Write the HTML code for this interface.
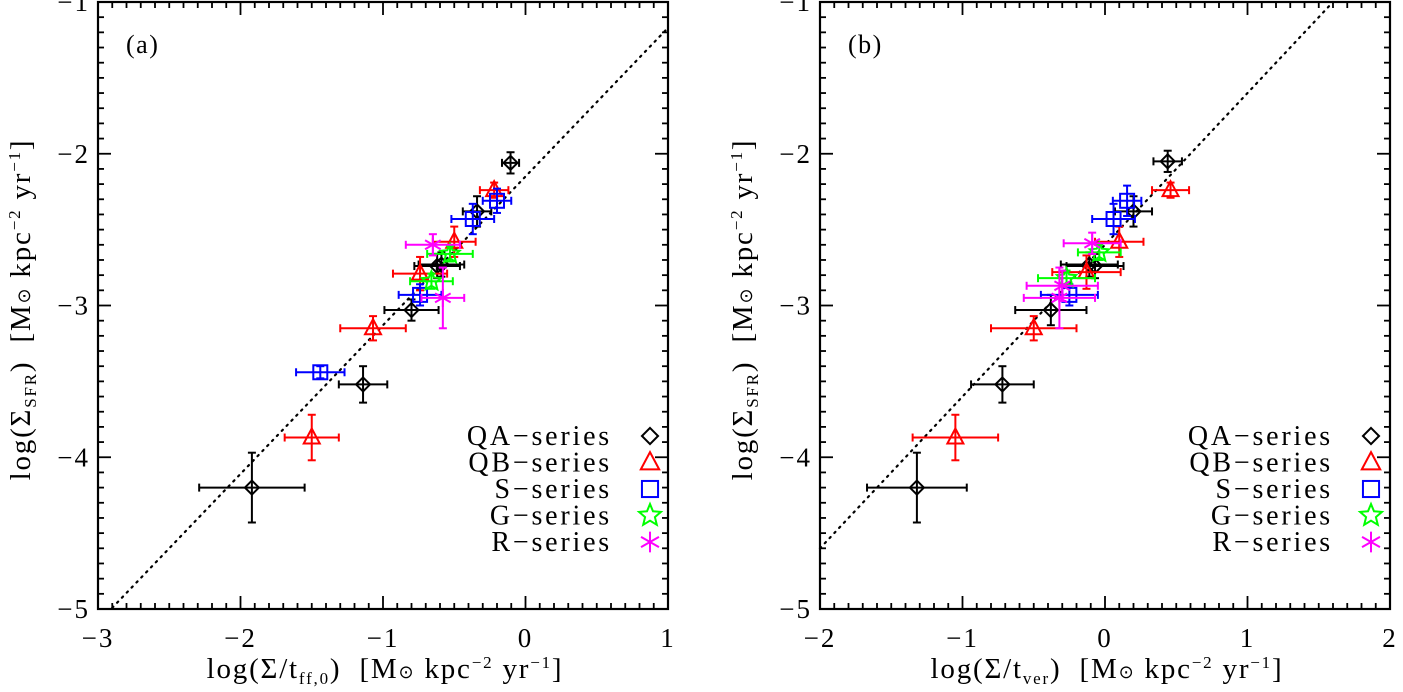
<!DOCTYPE html>
<html><head><meta charset="utf-8"><style>
body{margin:0;background:#fff;}
svg{display:block;font-family:"Liberation Serif",serif;}
</style></head><body>
<svg id="fig" width="1403" height="692" xml:space="preserve"></svg>
<script>
// Panel (a)
const aQA_x=[-0.105,-0.34,-0.59,-0.62,-0.80,-1.14,-1.92];
const aQA_y=[-2.06,-2.38,-2.73,-2.74,-3.03,-3.52,-4.20];
const aQA_ex=[0.06,0.1,0.16,0.16,0.19,0.17,0.37];
const aQA_ey=[0.07,0.1,0.08,0.08,0.07,0.12,0.23];
const aQB_x=[-0.22,-0.50,-0.74,-1.07,-1.50];
const aQB_y=[-2.24,-2.58,-2.79,-3.15,-3.87];
const aQB_ex=[0.1,0.15,0.19,0.23,0.19];
const aQB_ey=[0.05,0.1,0.11,0.08,0.15];
const aS_x=[-0.20,-0.37,-0.74,-1.44];
const aS_y=[-2.31,-2.43,-2.93,-3.44];
const aS_ex=[0.1,0.15,0.15,0.17];
const aS_ey=[0.08,0.1,0.07,0.04];
const aG_x=[-0.53,-0.66];
const aG_y=[-2.66,-2.84];
const aG_ex=[0.16,0.15];
const aG_ey=[0.05,0.05];
const aR_x=[-0.65,-0.58];
const aR_y=[-2.60,-2.95];
const aR_ex=[0.19,0.15];
const aR_ey=[0.07,0.2];
// Panel (b)
const bQA_x=[0.44,0.20,-0.11,-0.07,-0.38,-0.72,-1.32];
const bQA_y=[-2.05,-2.38,-2.73,-2.74,-3.03,-3.52,-4.20];
const bQA_ex=[0.1,0.13,0.2,0.2,0.25,0.22,0.35];
const bQA_ey=[0.07,0.1,0.08,0.08,0.1,0.12,0.23];
const bQB_x=[0.46,0.10,-0.13,-0.50,-1.05];
const bQB_y=[-2.24,-2.58,-2.78,-3.15,-3.87];
const bQB_ex=[0.13,0.17,0.24,0.3,0.30];
const bQB_ey=[0.05,0.1,0.11,0.08,0.15];
const bS_x=[0.155,0.06,-0.25];
const bS_y=[-2.31,-2.43,-2.93];
const bS_ex=[0.1,0.15,0.2];
const bS_ey=[0.1,0.1,0.07];
const bG_x=[-0.04,-0.27];
const bG_y=[-2.65,-2.82];
const bG_ex=[0.15,0.2];
const bG_ey=[0.05,0.05];
const bR_x=[-0.09,-0.30,-0.32];
const bR_y=[-2.59,-2.87,-2.95];
const bR_ex=[0.2,0.25,0.25];
const bR_ey=[0.07,0.1,0.2];
const legendLabels=["QA\u2212series","QB\u2212series","S\u2212series","G\u2212series","R\u2212series"];

const svg=document.getElementById('fig');
const NS="http://www.w3.org/2000/svg";
function mk(tag,attrs,parent){const e=document.createElementNS(NS,tag);for(const k in attrs)e.setAttribute(k,attrs[k]);(parent||svg).appendChild(e);return e;}

function units(sub){return 'log(\u03A3'+sub+'<tspan dy="-6">)\u00A0\u00A0[M</tspan><tspan font-family="DejaVu Sans" font-size="18">\u2299</tspan>\u00A0kpc<tspan font-size="17" dy="-10">\u22122</tspan><tspan dy="10">\u00A0yr</tspan><tspan font-size="17" dy="-10">\u22121</tspan><tspan dy="10">]</tspan>';}

function panel(opt){
  const g=mk('g',{});
  
  
  const X=v=>opt.x0+(v-opt.xmin)/(opt.xmax-opt.xmin)*(opt.x1-opt.x0);
  const Y=v=>opt.y0+(opt.ymax-v)/(opt.ymax-opt.ymin)*(opt.y1-opt.y0);
  const ln=mk('line',{x1:X(opt.l[0]),y1:Y(opt.l[1]),x2:X(opt.l[2]),y2:Y(opt.l[3]),stroke:'#000','stroke-width':2.2,'stroke-dasharray':'1.5 5.5','stroke-linecap':'round'},g);
  
  
  const tk=mk('g',{stroke:'#000','stroke-width':1.8},g);
  for(let i=0;i<=Math.round((opt.xmax-opt.xmin)*10);i++){
    const v=opt.xmin+i/10,px=X(v),L=(i%10===0)?13:6;
    mk('line',{x1:px,y1:opt.y1,x2:px,y2:opt.y1-L},tk);mk('line',{x1:px,y1:opt.y0,x2:px,y2:opt.y0+L},tk);
  }
  for(let i=0;i<=Math.round((opt.ymax-opt.ymin)*10);i++){
    const v=opt.ymin+i/10,py=Y(v),L=(i%10===0)?13:6;
    mk('line',{x1:opt.x0,y1:py,x2:opt.x0+L,y2:py},tk);mk('line',{x1:opt.x1,y1:py,x2:opt.x1-L,y2:py},tk);
  }
  const fr=mk('rect',{x:opt.x0,y:opt.y0,width:opt.x1-opt.x0,height:opt.y1-opt.y0,fill:'none',stroke:'#000','stroke-width':2.2},g);
  
  
  for(let v=opt.xmin;v<=opt.xmax;v++){
    const t=mk('text',{x:X(v),y:opt.y1+38,'font-size':27,'letter-spacing':2,'text-anchor':'middle'},g);
    t.textContent=(v<0?'\u2212':'')+Math.abs(v);
    
    
  }
  for(let v=opt.ymin;v<=opt.ymax;v++){
    const t=mk('text',{x:opt.x0-8,y:Y(v)+9,'font-size':27,'letter-spacing':2,'text-anchor':'end'},g);
    t.textContent=(v<0?'\u2212':'')+Math.abs(v);
    
    
  }
  const pl=mk('text',{x:opt.x0+28,y:opt.y0+51,'font-size':26,'letter-spacing':1.5},g);
  pl.textContent=opt.label;
  
  
  const xt=mk('text',{x:(opt.x0+opt.x1)/2+2,y:678,'font-size':29,'letter-spacing':1.8,'text-anchor':'middle'},g);
  xt.innerHTML=opt.xtitle;
  
  
  const yt=mk('text',{x:0,y:0,'font-size':29,'letter-spacing':1.8,'text-anchor':'middle',transform:`translate(${opt.x0-68},${(opt.y0+opt.y1)/2+4}) rotate(-90)`},g);
  yt.innerHTML=units('<tspan font-size="17" dy="6">SFR</tspan>');
  
  

  function marker(kind,cx,cy,color,par,sc){
    sc=sc||1;
    if(kind==='d')mk('path',{d:`M${cx} ${cy-7*sc}L${cx+7*sc} ${cy}L${cx} ${cy+7*sc}L${cx-7*sc} ${cy}Z`,fill:'none',stroke:color,'stroke-width':2},par);
    if(kind==='t')mk('path',{d:`M${cx} ${cy-9*sc}L${cx+8*sc} ${cy+6*sc}L${cx-8*sc} ${cy+6*sc}Z`,fill:'none',stroke:color,'stroke-width':2},par);
    if(kind==='s')mk('rect',{x:cx-7*sc,y:cy-7*sc,width:14*sc,height:14*sc,fill:'none',stroke:color,'stroke-width':2},par);
    if(kind==='g'){let d='';for(let i=0;i<10;i++){const r=(i%2?4.5:10)*sc,a=-Math.PI/2+i*Math.PI/5;d+=(i?'L':'M')+(cx+r*Math.cos(a)).toFixed(1)+' '+(cy+r*Math.sin(a)).toFixed(1);}mk('path',{d:d+'Z',fill:'none',stroke:color,'stroke-width':2},par);}
    if(kind==='r'){for(let i=0;i<3;i++){const a=Math.PI/2+i*Math.PI/3;mk('line',{x1:cx+9*sc*Math.cos(a),y1:cy+9*sc*Math.sin(a),x2:cx-9*sc*Math.cos(a),y2:cy-9*sc*Math.sin(a),stroke:color,'stroke-width':2},par);}}
  }
  opt.series.forEach((s,si)=>{
    const sg=mk('g',{},g);
    
    
    s.x.forEach((xv,i)=>{
      const cx=X(xv),cy=Y(s.y[i]);
      const xl=X(xv-s.ex[i]),xr=X(xv+s.ex[i]),yt2=Y(s.y[i]+s.ey[i]),yb=Y(s.y[i]-s.ey[i]);
      const p=mk('g',{stroke:s.c,'stroke-width':2},sg);
      
      
      mk('line',{x1:xl,y1:cy,x2:xr,y2:cy},p);mk('line',{x1:cx,y1:yt2,x2:cx,y2:yb},p);
      mk('line',{x1:xl,y1:cy-4,x2:xl,y2:cy+4},p);mk('line',{x1:xr,y1:cy-4,x2:xr,y2:cy+4},p);
      mk('line',{x1:cx-4,y1:yt2,x2:cx+4,y2:yt2},p);mk('line',{x1:cx-4,y1:yb,x2:cx+4,y2:yb},p);
      marker(s.k,cx,cy,s.c,p);
    });
    const ly=436+si*26.5;
    const lt=mk('text',{x:opt.legx,y:ly+9,'font-size':28,'letter-spacing':2.8,'text-anchor':'end'},g);
    lt.textContent=legendLabels[si];
    
    
    marker(s.k,opt.legx+38,ly,s.c,g,1.15);
  });
}
const cols={QA:'#000',QB:'#f00',S:'#00f',G:'#0f0',R:'#f0f'};
panel({name:'panel-a',label:'(a)',x0:98,x1:668,y0:2,y1:609,xmin:-3,xmax:1,ymin:-5,ymax:-1,
  l:[-2.9,-2.15-0.98*2.9,1,-1.17],legx:612,
  xtitle:units('/t<tspan font-size="17" dy="6">ff,0</tspan>'),
  series:[{n:'qa',k:'d',c:cols.QA,x:aQA_x,y:aQA_y,ex:aQA_ex,ey:aQA_ey},{n:'qb',k:'t',c:cols.QB,x:aQB_x,y:aQB_y,ex:aQB_ex,ey:aQB_ey},{n:'s',k:'s',c:cols.S,x:aS_x,y:aS_y,ex:aS_ex,ey:aS_ey},{n:'g',k:'g',c:cols.G,x:aG_x,y:aG_y,ex:aG_ex,ey:aG_ey},{n:'r',k:'r',c:cols.R,x:aR_x,y:aR_y,ex:aR_ex,ey:aR_ey}]});
panel({name:'panel-b',label:'(b)',x0:820,x1:1390,y0:2,y1:609,xmin:-2,xmax:2,ymin:-5,ymax:-1,
  l:[-2,-4.6,1.6,-1],legx:1333,
  xtitle:units('/t<tspan font-size="17" dy="6">ver</tspan>'),
  series:[{n:'qa',k:'d',c:cols.QA,x:bQA_x,y:bQA_y,ex:bQA_ex,ey:bQA_ey},{n:'qb',k:'t',c:cols.QB,x:bQB_x,y:bQB_y,ex:bQB_ex,ey:bQB_ey},{n:'s',k:'s',c:cols.S,x:bS_x,y:bS_y,ex:bS_ex,ey:bS_ey},{n:'g',k:'g',c:cols.G,x:bG_x,y:bG_y,ex:bG_ex,ey:bG_ey},{n:'r',k:'r',c:cols.R,x:bR_x,y:bR_y,ex:bR_ex,ey:bR_ey}]});
</script>
</body></html>
